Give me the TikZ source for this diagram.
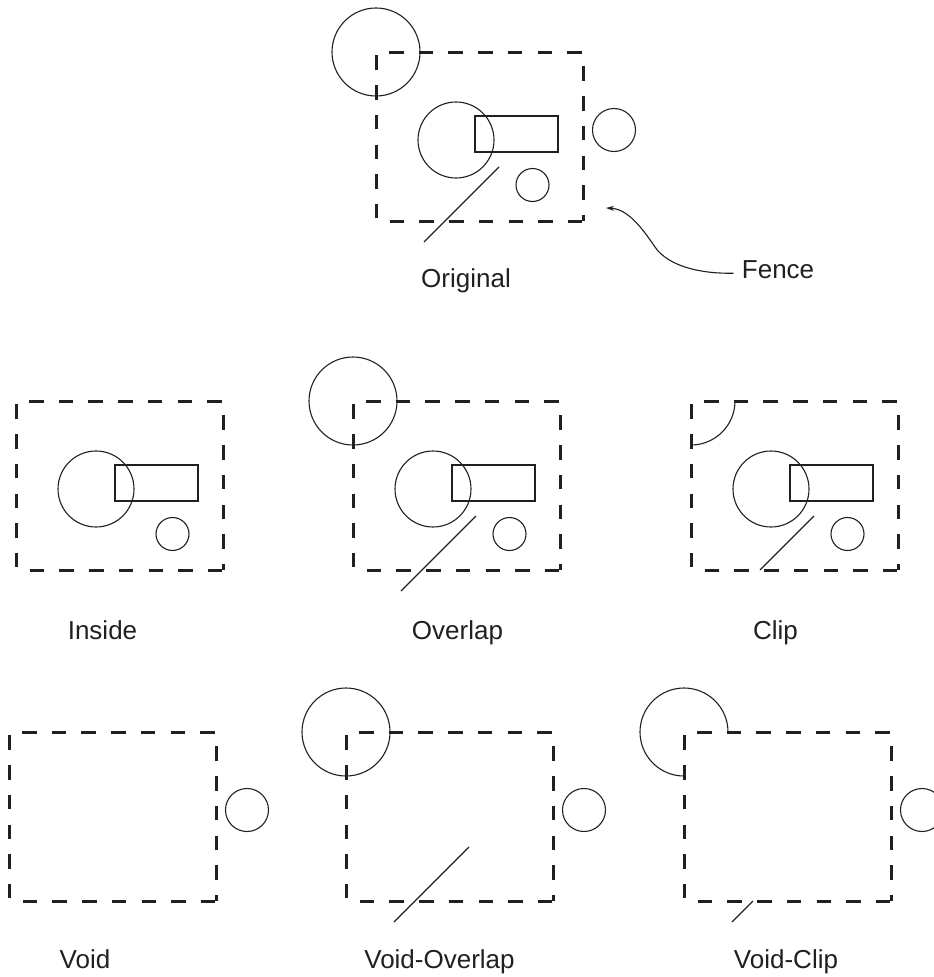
\documentclass[tikz,border=0pt]{standalone}
\usepackage{fontspec}
\setmainfont{Liberation Sans}
\usetikzlibrary{arrows.meta}
\definecolor{ink}{RGB}{35,31,32}

% dashed fence, top-left corner at the scope origin
\newcommand{\fencebox}{%
  \draw[fenceline, dash phase=26.3pt] (0,0) -- (0,169);
  \draw[fenceline, dash phase=16.7pt] (0,0) -- (207,0);
  \draw[fenceline, dash phase=15.3pt] (207,0) -- (207,169);
  \draw[fenceline, dash phase=16pt] (0,169) -- (207,169);
}

\begin{document}
\begin{tikzpicture}[x=1pt, y=-1pt,
  fenceline/.style={ink, line width=3pt, dash pattern=on 14.5pt off 15.2pt},
  figline/.style={ink, line width=1.1pt},
  lbl/.style={anchor=base, inner sep=0pt, text=ink, font=\fontsize{26}{30}\selectfont}]
  \useasboundingbox (0,0) rectangle (934,977);

  % Original
  \begin{scope}[shift={(376,52)}]
    \fencebox
    \draw[figline] (0,0) circle[radius=44];
    \draw[figline] (80,88) circle[radius=38];
    \draw[figline] (99,64) rectangle (182,100);
    \draw[figline] (156.5,133) circle[radius=16.5];
    \draw[figline] (238,78) circle[radius=21.5];
    \draw[figline] (123,115) -- (48,190);
  \end{scope}
  \node[lbl] (original) at (466,287) {Original};

  % Fence pointer
  \coordinate (fencetip) at (606,208);
  \node[lbl, anchor=base west, inner xsep=8pt] (fencelbl) at (733.7,278) {Fence};
  \draw[figline, -{Stealth[length=8pt, width=5pt]}] ([yshift=-4pt]fencelbl.west)
    .. controls (700,274) and (668,266) .. (655,247)
    .. controls (642,228) and (628,209) .. (fencetip);

  % Row 2
  \begin{scope}[shift={(16,401)}]
    \fencebox
    \draw[figline] (80,88) circle[radius=38];
    \draw[figline] (99,64) rectangle (182,100);
    \draw[figline] (156.5,133) circle[radius=16.5];
  \end{scope}
  \node[lbl] (inside) at (102.5,639) {Inside};

  \begin{scope}[shift={(353,401)}]
    \fencebox
    \draw[figline] (0,0) circle[radius=44];
    \draw[figline] (80,88) circle[radius=38];
    \draw[figline] (99,64) rectangle (182,100);
    \draw[figline] (156.5,133) circle[radius=16.5];
    \draw[figline] (123,115) -- (48,190);
  \end{scope}
  \node[lbl] (overlap) at (457.5,639) {Overlap};

  \begin{scope}[shift={(691,401)}]
    \fencebox
    \draw[figline] (44,0) arc[start angle=0, end angle=90, radius=44];
    \draw[figline] (80,88) circle[radius=38];
    \draw[figline] (99,64) rectangle (182,100);
    \draw[figline] (156.5,133) circle[radius=16.5];
    \draw[figline] (123,115) -- (69,169);
  \end{scope}
  \node[lbl] (clip) at (775.5,639) {Clip};

  % Row 3
  \begin{scope}[shift={(9,732)}]
    \fencebox
    \draw[figline] (238,78) circle[radius=21.5];
  \end{scope}
  \node[lbl] (void) at (85,968) {Void};

  \begin{scope}[shift={(346,732)}]
    \fencebox
    \draw[figline] (0,0) circle[radius=44];
    \draw[figline] (238,78) circle[radius=21.5];
    \draw[figline] (123,115) -- (48,190);
  \end{scope}
  \node[lbl] (voidoverlap) at (439.5,968) {Void-Overlap};

  \begin{scope}[shift={(684,732)}]
    \fencebox
    \draw[figline] (44,0) arc[start angle=0, end angle=-270, radius=44];
    \draw[figline] (238,78) circle[radius=21.5];
    \draw[figline] (69,169) -- (48,190);
  \end{scope}
  \node[lbl] (voidclip) at (786,968) {Void-Clip};
\end{tikzpicture}
\end{document}
